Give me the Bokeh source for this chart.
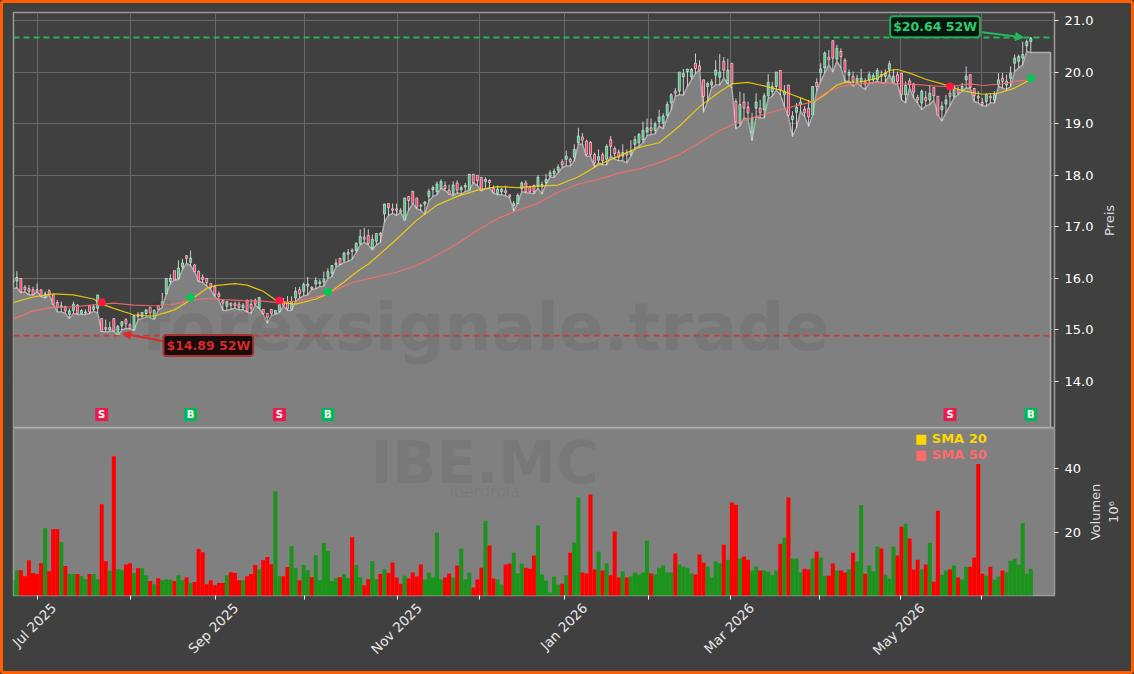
from math import pi

from bokeh.core.properties import value
from bokeh.embed import file_html
from bokeh.layouts import column, row
from bokeh.models import (Arrow, ColumnDataSource, FixedTicker, GlobalInlineStyleSheet, Label, LinearAxis, NormalHead,
                          NumeralTickFormatter, Range1d, Span)
from bokeh.plotting import figure
from bokeh.resources import INLINE

highs = [16.12,16.14,16.00,15.87,15.87,15.84,15.90,15.78,15.75,15.79,
15.68,15.58,15.55,15.47,15.42,15.55,15.50,15.40,15.40,15.48,
15.50,15.68,15.22,15.20,15.16,15.23,15.10,15.17,15.23,15.13,
15.28,15.35,15.34,15.39,15.45,15.40,15.47,15.72,16.00,16.08,
16.15,16.35,16.38,16.45,16.54,16.28,16.15,16.08,16.00,15.90,
15.85,15.75,15.60,15.55,15.53,15.55,15.55,15.52,15.58,15.60,
15.61,15.63,15.40,15.32,15.40,15.38,15.60,15.62,15.66,15.65,
15.83,15.84,15.92,16.03,15.85,16.02,15.98,16.13,16.20,16.25,
16.38,16.40,16.52,16.57,16.58,16.70,16.95,16.98,16.95,16.85,
16.87,16.90,17.45,17.45,17.45,17.45,17.36,17.56,17.59,17.69,
17.56,17.45,17.50,17.73,17.80,17.88,17.92,17.88,17.82,17.88,
17.90,17.80,17.85,18.02,18.02,18.00,17.96,17.96,17.92,17.80,
17.80,17.76,17.80,17.62,17.50,17.65,17.88,17.90,17.80,17.82,
18.00,17.88,18.03,18.10,18.13,18.21,18.31,18.48,18.34,18.60,
18.92,18.82,18.69,18.66,18.44,18.50,18.44,18.60,18.76,18.56,
18.50,18.60,18.50,18.68,18.76,18.82,19.04,19.10,19.10,19.04,
19.27,19.20,19.43,19.59,19.69,20.00,20.06,20.06,20.08,20.36,
20.23,19.85,19.81,19.86,20.23,20.35,20.29,20.26,20.17,19.49,
19.62,19.59,19.43,19.21,19.59,19.46,19.59,19.96,19.81,20.00,
20.03,19.75,19.75,19.24,19.40,19.50,19.34,19.46,19.72,19.88,
20.17,20.40,20.43,20.61,20.53,20.46,20.27,20.05,20.01,19.95,
20.06,19.88,20.01,19.98,20.08,20.03,20.05,20.22,20.06,20.01,
19.98,19.82,19.88,19.79,19.56,19.66,19.63,19.75,19.70,19.53,
19.43,19.56,19.69,19.75,19.72,19.79,20.11,19.95,19.69,19.63,
19.50,19.59,19.59,19.63,19.98,19.98,19.95,20.11,20.34,20.34,20.59,20.63,20.68]

lows = [15.80,15.82,15.72,15.74,15.68,15.68,15.74,15.65,15.62,15.68,
15.50,15.35,15.35,15.32,15.22,15.32,15.30,15.30,15.30,15.32,
15.36,15.33,14.97,14.96,14.97,14.98,14.88,15.00,15.03,15.02,
14.99,15.20,15.22,15.25,15.24,15.20,15.38,15.44,15.70,15.90,
15.97,15.98,16.17,16.29,16.25,16.13,15.94,15.92,15.85,15.78,
15.64,15.58,15.38,15.38,15.40,15.42,15.39,15.39,15.35,15.32,
15.48,15.42,15.30,15.13,15.28,15.30,15.34,15.46,15.38,15.38,
15.55,15.62,15.66,15.68,15.78,15.80,15.84,15.85,16.00,16.03,
16.22,16.26,16.31,16.33,16.37,16.50,16.65,16.70,16.65,16.55,
16.65,16.70,17.09,17.22,17.26,17.22,17.28,17.13,17.32,17.45,
17.35,17.32,17.24,17.50,17.59,17.62,17.75,17.70,17.65,17.60,
17.66,17.63,17.68,17.71,17.85,17.80,17.70,17.74,17.75,17.65,
17.62,17.62,17.60,17.56,17.30,17.47,17.68,17.66,17.65,17.64,
17.75,17.63,17.83,17.96,17.96,18.05,18.15,18.18,18.18,18.28,
18.60,18.60,18.37,18.37,18.15,18.24,18.20,18.20,18.37,18.31,
18.28,18.28,18.24,18.37,18.53,18.56,18.63,18.76,18.79,18.80,
18.95,18.90,19.11,19.27,19.53,19.56,19.55,19.72,19.85,19.97,
20.04,19.22,19.43,19.69,19.75,19.75,19.88,19.78,19.69,18.90,
18.95,19.11,19.08,18.67,19.14,19.11,19.11,19.49,19.53,19.65,
19.56,19.33,19.14,18.75,18.92,19.24,19.14,18.95,19.17,19.63,
19.82,19.98,20.14,20.00,20.21,20.08,19.82,19.82,19.72,19.79,
19.72,19.66,19.79,19.79,19.82,19.79,19.79,19.95,19.77,19.77,
19.46,19.40,19.69,19.50,19.40,19.27,19.34,19.37,19.46,19.17,
19.05,19.21,19.35,19.50,19.56,19.63,19.69,19.68,19.43,19.40,
19.34,19.34,19.40,19.40,19.72,19.69,19.66,19.72,20.01,20.08,20.14,20.40,20.38]

body_tops = [16.00,16.02,16.00,15.83,15.80,15.78,15.78,15.78,15.70,15.76,
15.68,15.53,15.47,15.45,15.37,15.50,15.48,15.38,15.35,15.47,
15.45,15.68,15.22,15.05,15.05,15.22,15.07,15.16,15.20,15.10,
15.28,15.30,15.34,15.39,15.44,15.38,15.47,15.55,16.00,16.00,
16.15,16.20,16.30,16.44,16.39,16.26,16.14,16.02,16.00,15.90,
15.84,15.70,15.57,15.55,15.52,15.51,15.50,15.48,15.58,15.50,
15.58,15.63,15.40,15.32,15.40,15.38,15.50,15.55,15.54,15.54,
15.75,15.78,15.88,15.89,15.83,15.96,15.93,15.98,16.13,16.25,
16.30,16.39,16.49,16.50,16.55,16.68,16.81,16.80,16.83,16.76,
16.87,16.87,17.44,17.45,17.35,17.35,17.32,17.56,17.59,17.69,
17.56,17.42,17.48,17.69,17.76,17.83,17.88,17.80,17.71,17.81,
17.85,17.76,17.80,18.02,18.02,18.00,17.96,17.92,17.90,17.75,
17.73,17.73,17.70,17.62,17.45,17.61,17.85,17.85,17.77,17.80,
17.96,17.82,17.92,18.05,18.08,18.16,18.26,18.37,18.31,18.50,
18.76,18.74,18.66,18.64,18.40,18.36,18.40,18.56,18.69,18.52,
18.45,18.44,18.44,18.47,18.69,18.79,18.87,18.92,18.92,18.99,
19.13,19.15,19.37,19.56,19.63,20.00,19.97,20.06,20.05,20.17,
20.12,19.85,19.78,19.81,20.04,20.00,20.21,20.04,20.17,19.43,
19.37,19.42,19.32,19.11,19.42,19.30,19.54,19.80,19.72,20.00,
20.03,19.63,19.75,19.15,19.32,19.42,19.28,19.30,19.72,19.80,
20.06,20.37,20.29,20.61,20.46,20.40,20.23,19.99,19.92,19.88,
19.88,19.82,19.95,19.93,20.03,19.95,19.98,20.16,19.92,19.95,
19.98,19.74,19.83,19.77,19.51,19.63,19.51,19.59,19.70,19.53,
19.34,19.46,19.59,19.72,19.66,19.72,19.92,19.95,19.68,19.53,
19.41,19.56,19.53,19.56,19.85,19.88,19.82,19.98,20.27,20.30,20.34,20.59,20.66]

body_bottoms = [15.92,15.95,15.74,15.78,15.75,15.68,15.74,15.65,15.63,15.69,
15.50,15.44,15.44,15.37,15.30,15.38,15.32,15.32,15.33,15.35,
15.40,15.42,14.97,15.02,15.00,14.98,14.90,15.08,15.12,15.03,
15.00,15.26,15.26,15.32,15.33,15.22,15.40,15.48,15.70,15.94,
15.97,16.00,16.22,16.39,16.31,16.13,15.95,15.98,15.92,15.82,
15.68,15.65,15.52,15.46,15.48,15.47,15.44,15.43,15.36,15.42,
15.50,15.42,15.32,15.24,15.32,15.32,15.36,15.48,15.41,15.40,
15.62,15.70,15.75,15.85,15.80,15.89,15.90,15.93,16.03,16.10,
16.26,16.27,16.35,16.47,16.52,16.54,16.68,16.76,16.67,16.59,
16.72,16.84,17.25,17.37,17.32,17.32,17.29,17.13,17.51,17.45,
17.38,17.40,17.44,17.59,17.72,17.68,17.74,17.74,17.63,17.64,
17.71,17.72,17.77,17.71,17.85,17.90,17.70,17.88,17.86,17.66,
17.64,17.68,17.66,17.59,17.41,17.45,17.74,17.68,17.68,17.68,
17.79,17.78,17.86,17.98,18.03,18.10,18.20,18.31,18.26,18.35,
18.63,18.68,18.40,18.40,18.24,18.29,18.28,18.31,18.56,18.42,
18.35,18.37,18.39,18.40,18.60,18.63,18.69,18.84,18.87,18.87,
19.04,19.01,19.16,19.40,19.59,19.63,19.91,20.01,19.91,20.07,
20.04,19.53,19.72,19.75,19.94,19.90,20.04,19.78,19.78,19.04,
19.01,19.30,19.21,18.82,19.30,19.21,19.27,19.54,19.62,19.72,
19.65,19.56,19.16,19.08,19.22,19.37,19.21,19.13,19.17,19.72,
19.99,20.08,20.24,20.27,20.25,20.30,20.01,19.94,19.82,19.83,
19.82,19.77,19.85,19.85,19.85,19.92,19.92,20.05,19.79,19.82,
19.56,19.56,19.75,19.61,19.46,19.40,19.45,19.46,19.54,19.17,
19.27,19.38,19.53,19.53,19.59,19.64,19.85,19.70,19.54,19.50,
19.37,19.43,19.50,19.46,19.75,19.82,19.75,19.88,20.17,20.21,20.27,20.51,20.59]

volumes = [5.0,8.2,8.2,6.3,11.3,7.3,7.0,10.4,21.3,7.9,
21,21,17,9.5,7,7,7,6.3,5.4,7,
7,5.4,28.8,11,8,43.8,8.5,8.2,10,10.4,
7.3,8.8,8.8,6.6,4.8,3.8,5.7,5.1,5.4,5.3,
4.8,6.6,5.1,6,4.2,4.5,14.8,13.8,3.8,5.1,
3.5,4.2,4.2,6.6,7.6,7.3,5.1,5.1,6.3,7,
9.8,8.5,11.3,12.3,10.1,32.9,6.3,6.3,9.2,15.7,
8.8,5.1,9.8,8.2,6,12.9,5.1,16.7,14.2,4.8,
5.7,6,7,5.7,18.5,9.8,6,3.5,5.4,11,
5.4,7,8.5,7.3,10.6,5.9,4.0,6.5,5.6,7.5,
6.2,10,5.3,7.5,5.9,20,5.3,5.9,7.2,5.9,
9.7,15,5.3,7.5,2.8,5.3,9,23.7,15.9,5.6,
5.3,3.7,10,10.3,13.7,7.2,10.3,9,8.7,12.8,
22.2,6.9,5,1.2,6.2,3.7,4,6.6,13.7,16.9,
30.9,7.5,7.2,31.9,8.4,14,8.1,10.3,6.6,20.3,
5.9,7.8,5.9,6.2,7.5,6.9,7.5,17.5,7.2,6.9,
9,9.7,7.5,7.5,13.4,10,9.4,9,7.2,6.9,
13.1,10.6,9.4,5.9,10.9,10.3,16.2,11.5,29.4,28.7,
11.9,12.5,11.5,8.1,9.4,8.1,8.1,7.8,6.6,8.1,
16.5,18.4,30.9,11.9,11.9,7.5,8.7,8.4,11.9,14,
12.2,6.5,6.5,10.3,8.1,8.1,7.5,8.4,13.7,10.9,
28.6,7.1,9.7,7.8,15.6,15,6.8,5.6,15.6,12.8,
21.8,22.7,18.1,8.4,11.5,8.4,10,16.8,4.6,26.8,
6.8,8.1,8.4,9.7,5.9,5.3,9.3,9.3,12.2,41.4,
7.1,6.5,9.3,5.3,6.2,8.1,7.5,11.2,11.8,10,23,7.1,8.7]

directions = ("ggrrrrrrgr" "rrgrggrggr" "ggrrgrggrr" "grggrgrggg" "rggrgrrrrr" "rrrgrrrgrr" "rgrrrggrrg"
              "grggrggggg" "grggrggrrg" "grgrrrrgrr" "rrgggggrrg" "rgggrrrgrr" "ggrrgggrrr" "ggggggrgrg"
              "grrrrgrgrr" "rgrgggggrg" "ggggrggggr" "rrggggrgrr" "grrggrgggg" "rgrgggrrgr" "ggrrgrrgrg"
              "grgggrgggr" "rgrrrgrgrr" "ggrgrggrrr" "rgrggrggggggg")

sma20_idx = [0,5,10,15,20,22,25,30,35,40,44,48,50,55,58,62,66,70,75,78,82,85,88,90,95,100,105,110,115,120,125,
             130,135,140,145,150,155,160,165,170,175,178,182,185,190,193,195,198,201,204,206,210,214,217,219,222,
             226,230,232,235,240,244,248,252]
sma20_val = [15.53,15.64,15.70,15.68,15.60,15.50,15.42,15.29,15.27,15.39,15.58,15.81,15.86,15.90,15.87,15.75,15.53,
             15.50,15.60,15.70,15.93,16.12,16.28,16.41,16.76,17.13,17.42,17.59,17.71,17.78,17.76,17.79,17.81,17.97,
             18.20,18.37,18.54,18.63,18.95,19.33,19.62,19.77,19.80,19.75,19.65,19.56,19.50,19.41,19.56,19.75,19.80,
             19.81,19.88,20.03,20.05,19.98,19.86,19.77,19.72,19.64,19.57,19.59,19.69,19.86]
sma50_idx = [0,5,10,15,22,25,30,35,40,44,48,52,57,62,66,70,75,78,82,85,90,95,100,105,110,115,120,125,130,135,140,
             145,150,155,160,165,170,175,180,185,190,195,198,201,205,210,215,220,225,230,232,237,240,245,250,252]
sma50_val = [15.21,15.37,15.44,15.45,15.50,15.52,15.48,15.47,15.50,15.58,15.61,15.59,15.57,15.56,15.53,15.56,15.64,
             15.70,15.85,15.94,16.03,16.12,16.25,16.45,16.67,16.93,17.16,17.32,17.46,17.67,17.83,17.92,18.04,18.12,
             18.24,18.40,18.63,18.87,19.04,19.16,19.27,19.37,19.42,19.59,19.72,19.77,19.80,19.77,19.75,19.72,19.72,
             19.77,19.74,19.77,19.84,19.85]

signal_idx = [22, 44, 66, 78, 232, 252]
signal_txt = ["S", "B", "S", "B", "S", "B"]
signal_px = [15.54, 15.63, 15.57, 15.74, 19.72, 19.88]

month_ticks = [6.1, 29.1, 50.2, 72.2, 95.2, 115.5, 136.6, 157.3, 177.7, 199.7, 219.7, 239.8]
label_ticks = [6.1, 50.2, 95.2, 136.6, 177.7, 219.7]
label_text = ["Jul 2025", "Sep 2025", "Nov 2025", "Jan 2026", "Mar 2026", "May 2026"]
label_shift = [4.0, 5.0, 5.4, 5.0, 5.2, 5.4]  # rotated labels sit centred on their tick
price_ticks = [14, 15, 16, 17, 18, 19, 20, 21]
volume_ticks = [20, 40]
high_52w = 20.67
low_52w = 14.89
area_end = 256.9

DARK = "#404040"
MID = "#808080"
UP = "#35c97a"
DOWN = "#ff2b5e"
GOLD = "#FFD700"
CORAL = "#FF6B6B"
FONT = "DejaVu Sans"
n = len(highs)
assert n == len(lows) == len(body_tops) == len(body_bottoms) == len(volumes) == len(directions) == 253
idx = list(range(n))
x_range = Range1d(0.17, 257.87)

page = GlobalInlineStyleSheet(css=f"html{{height:100%;background:{DARK};box-shadow:inset 0 0 0 3px #ff5f00;"
                                  "border-radius:4px;overflow:hidden}body{margin:0}")

top = figure(width=1098, height=428, x_range=x_range, y_range=Range1d(13.09, 21.155), output_backend="svg",
             toolbar_location=None, x_axis_location=None, y_axis_location="right",
             background_fill_color=DARK, border_fill_color=None,
             min_border_left=13, min_border_right=44, min_border_top=12, min_border_bottom=0)
bot = figure(width=1084, height=246, x_range=x_range, y_range=Range1d(0.3, 52.5), output_backend="svg",
             toolbar_location=None, y_axis_location="right",
             background_fill_color=MID, border_fill_color=None,
             min_border_left=13, min_border_right=30, min_border_top=0, min_border_bottom=79)

for f in (top, bot):
    f.outline_line_color = "#9a9a9a"
    f.outline_line_width = 1.5
    for ax in f.yaxis:
        ax.major_label_text_color = "#ffffff"
        ax.major_label_text_font = FONT
        ax.major_label_text_font_size = "13px"
        ax.major_tick_line_color = "#e8e8e8"
        ax.major_tick_in = 0
        ax.major_tick_out = 4
        ax.minor_tick_line_color = None
        ax.axis_line_color = None
        ax.major_label_standoff = 6

top.yaxis[0].ticker = FixedTicker(ticks=price_ticks)
top.yaxis[0].formatter = NumeralTickFormatter(format="0.0")
bot.yaxis[0].ticker = FixedTicker(ticks=volume_ticks)


def title_rail(text, width, height, border_left, border_top, border_bottom):
    """A narrow empty figure whose left axis carries a title that reads upward, centred on the panel beside it."""
    rail = figure(width=width, height=height, x_range=Range1d(0, 1), y_range=Range1d(0, 1), output_backend="svg",
                  toolbar_location=None, x_axis_location=None, y_axis_location="left",
                  background_fill_color=None, border_fill_color=None, outline_line_color=None,
                  min_border_left=border_left, min_border_right=0, min_border_top=border_top,
                  min_border_bottom=border_bottom)
    rail.grid.visible = False
    axis = rail.yaxis[0]
    axis.ticker = FixedTicker(ticks=[])
    axis.axis_label = text
    axis.axis_label_standoff = 0
    axis.axis_label_text_color = "#dddddd"
    axis.axis_label_text_font = FONT
    axis.axis_label_text_font_size = "13px"
    axis.axis_label_text_font_style = "normal"
    axis.axis_line_color = None
    axis.major_tick_line_color = None
    axis.minor_tick_line_color = None
    axis.major_label_standoff = 0
    return rail


preis_rail = title_rail("Preis", 36, 428, 16, 12, 0)
volume_rail = title_rail("Volumen\n10⁶", 50, 246, 33, 0, 76)

# tick marks on one axis, the rotated month names on a second one, because they are centred on their ticks
xa = bot.xaxis[0]
xa.ticker = FixedTicker(ticks=month_ticks)
xa.major_label_overrides = {t: "" for t in month_ticks}
xa.major_label_standoff = 0
xa.major_tick_line_color = "#ffffff"
xa.major_tick_in = 0
xa.major_tick_out = 4
xa.minor_tick_line_color = None
xa.axis_line_color = None

name_ticks = [t + s for t, s in zip(label_ticks, label_shift)]
names = LinearAxis(ticker=FixedTicker(ticks=name_ticks),
                   major_label_overrides=dict(zip(name_ticks, label_text)),
                   major_label_orientation=pi / 4, major_label_text_color="#e8e8e8", major_label_text_font=FONT,
                   major_label_text_font_size="13.5px", major_tick_line_color=None, minor_tick_line_color=None,
                   axis_line_color=None, major_label_standoff=6, major_tick_in=0, major_tick_out=0)
bot.add_layout(names, "below")

top.xgrid.ticker = FixedTicker(ticks=month_ticks)
top.xgrid.grid_line_color = "#686868"
top.ygrid.grid_line_color = "#686868"
top.ygrid.ticker = FixedTicker(ticks=price_ticks)
bot.xgrid.visible = False
bot.ygrid.visible = False

# mountain under the lows
area_x = idx + [area_end, area_end, 0]
area_base = top.y_range.start + 0.02
area_y = lows + [lows[-1], area_base, area_base]
top.patch(area_x, area_y, fill_color=MID, line_color="#ababab", line_width=1.5)

top.add_layout(Label(x=117, y=15.05, text="forexsignale.trade", text_align="center", text_baseline="middle",
                     text_font=FONT, text_font_style="bold", text_font_size="66px", text_color="#000000", text_alpha=0.07))

top.add_layout(Span(location=high_52w, dimension="width", line_color="#22b85a", line_dash=[6, 4], line_width=1.8))
top.add_layout(Span(location=low_52w, dimension="width", line_color="#c83c3c", line_dash=[6, 4], line_width=1.8))

body_color = [UP if d == "g" else DOWN for d in directions]
candles = ColumnDataSource(dict(x=idx, high=highs, low=lows, t=body_tops, b=body_bottoms, c=body_color))
top.segment("x", "high", "x", "low", source=candles, line_color="#e6e6e6", line_width=1, line_alpha=0.85)
top.vbar("x", 0.5, "b", "t", source=candles, fill_color="c", line_color="#f0f0f0", line_width=0.7, line_alpha=0.9)

top.line(sma20_idx, sma20_val, line_color=GOLD, line_width=1.2, line_alpha=0.85)
top.line(sma50_idx, sma50_val, line_color=CORAL, line_width=1.2, line_alpha=0.85)

sig_color = ["#ff1744" if s == "S" else "#00c853" for s in signal_txt]
sig_box = ["#ec1a4c" if s == "S" else "#00b85a" for s in signal_txt]
top.scatter(signal_idx, signal_px, marker="circle", size=8, fill_color=sig_color, line_color=None)
sig_level = [13.36] * len(signal_idx)
top.scatter(signal_idx, sig_level, marker="square", size=13, fill_color=sig_box, line_color=None)
top.text(signal_idx, sig_level, text=signal_txt, text_color="#ffffff", text_font=value(FONT), text_font_style="bold",
         text_font_size="10px", text_align="center", text_baseline="middle")

top.add_layout(Arrow(end=NormalHead(size=8, fill_color="#22b85a", line_color="#22b85a"), x_start=240, y_start=20.77,
                     x_end=250.2, y_end=20.67, line_color="#22b85a", line_width=2))
top.add_layout(Arrow(end=NormalHead(size=8, fill_color="#e02a2a", line_color="#e02a2a"), x_start=37.3, y_start=14.78,
                     x_end=27.2, y_end=14.93, line_color="#e02a2a", line_width=2))
top.add_layout(Label(x=228.3, y=20.88, text="$20.64 52W", text_align="center", text_baseline="middle", text_font=FONT,
                     text_font_style="bold", text_font_size="12.5px", text_color="#2ecc71",
                     background_fill_color="#07160d", border_line_color="#1fa855", border_line_width=2,
                     padding=3, border_radius=3))
top.add_layout(Label(x=48.4, y=14.70, text="$14.89 52W", text_align="center", text_baseline="middle", text_font=FONT,
                     text_font_style="bold", text_font_size="12.5px", text_color="#d62a2a",
                     background_fill_color="#180c0c", border_line_color="#a83232", border_line_width=2,
                     padding=3, border_radius=3))

# volume panel
vol_color = ["#1a941a" if d == "g" else "#ff0000" for d in directions]
bot.vbar(idx, 1.0, 0, volumes, fill_color=vol_color, line_color=None)
bot.add_layout(Label(x=116.8, y=41.6, text="IBE.MC", text_align="center", text_baseline="middle", text_font=FONT,
                     text_font_style="bold", text_font_size="58px", text_color="#000000", text_alpha=0.06))
bot.add_layout(Label(x=116.8, y=32.7, text="Iberdrola", text_align="center", text_baseline="middle", text_font=FONT,
                     text_font_size="16px", text_color="#000000", text_alpha=0.06))
bot.scatter([224.9], [49.0], marker="square", size=10, fill_color=GOLD, line_color=None)
bot.scatter([224.9], [44.0], marker="square", size=10, fill_color=CORAL, line_color=None)
bot.add_layout(Label(x=227.5, y=49.4, text="SMA 20", text_align="left", text_baseline="middle", text_font=FONT,
                     text_font_style="bold", text_font_size="13px", text_color=GOLD))
bot.add_layout(Label(x=227.5, y=44.4, text="SMA 50", text_align="left", text_baseline="middle", text_font=FONT,
                     text_font_style="bold", text_font_size="13px", text_color=CORAL))

layout = column(row(top, preis_rail, spacing=0), row(bot, volume_rail, spacing=0), spacing=0, stylesheets=[page])
open("out.html", "w").write(file_html(layout, INLINE))
